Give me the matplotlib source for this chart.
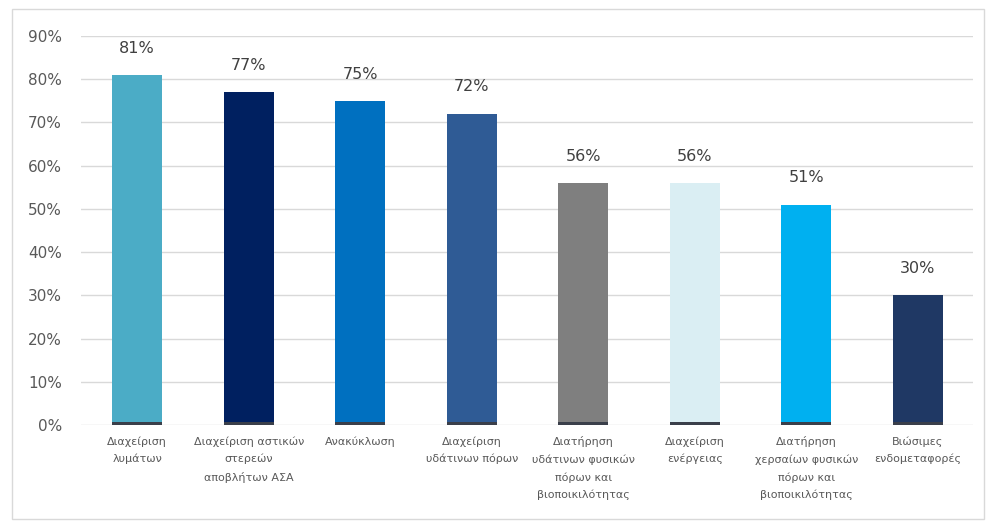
import matplotlib.pyplot as plt
from matplotlib.patches import Rectangle
from matplotlib.ticker import FuncFormatter

categories = [
    "Διαχείριση\nλυμάτων",
    "Διαχείριση αστικών\nστερεών\nαποβλήτων ΑΣΑ",
    "Ανακύκλωση",
    "Διαχείριση\nυδάτινων πόρων",
    "Διατήρηση\nυδάτινων φυσικών\nπόρων και\nβιοποικιλότητας",
    "Διαχείριση\nενέργειας",
    "Διατήρηση\nχερσαίων φυσικών\nπόρων και\nβιοποικιλότητας",
    "Βιώσιμες\nενδομεταφορές",
]
values = [81, 77, 75, 72, 56, 56, 51, 30]
colors = ["#4bacc6", "#002060", "#0070c0", "#2f5b95",
          "#7f7f7f", "#daeef3", "#00b0f0", "#1f3864"]

fig = plt.figure(figsize=(9.9, 5.23), dpi=100)
ax = fig.add_axes([0.0823, 0.1874, 0.901, 0.7438])

x = list(range(len(values)))
bars = ax.bar(x, values, width=0.45, color=colors, zorder=3)
# thin dark base under each bar
ax.bar(x, [0.6] * len(values), width=0.45, color="#3a3f4a", zorder=4)

for xi, v in zip(x, values):
    ax.text(xi, v + 6.2, f"{v}%", ha="center", va="center",
            fontsize=11.5, color="#404040")

ax.set_xlim(-0.5, 7.5)
ax.set_ylim(0, 90)
ax.set_yticks(range(0, 91, 10))
ax.yaxis.set_major_formatter(FuncFormatter(lambda v, p: f"{int(v)}%"))
ax.grid(axis="y", color="#d9d9d9", lw=1, zorder=0)
for s in ax.spines.values():
    s.set_visible(False)
ax.tick_params(axis="y", length=0, labelsize=11, labelcolor="#595959", pad=14)
ax.tick_params(axis="x", length=0, labelsize=8, labelcolor="#595959", pad=8)
ax.set_xticks(x)
ax.set_xticklabels(categories, linespacing=1.85)

# light outer frame
fig.patches.append(Rectangle((0.012, 0.008), 0.982, 0.975, transform=fig.transFigure,
                             fill=False, edgecolor="#d9d9d9", lw=1))

fig.savefig("out.png", dpi=100)
